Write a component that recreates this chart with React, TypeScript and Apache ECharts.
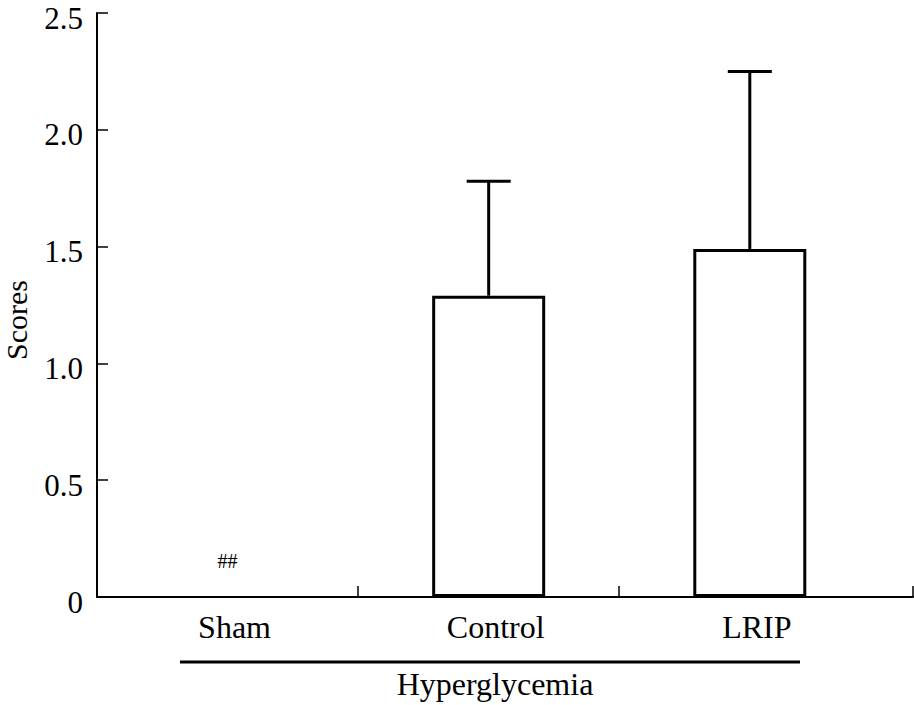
import React, { useEffect, useRef } from "react";
import * as echarts from "echarts";

const categories = ["Sham", "Control", "LRIP"];
const means = [0, 1.29, 1.49];
const sds = [0, 0.49, 0.76];
const marks = ["##", "", ""];
const yMin = 0;
const yMax = 2.5;
const yStep = 0.5;
const groupLabel = "Hyperglycemia";
const yName = "Scores";

const FONT = '"Times New Roman", "Liberation Serif", serif';

export default function App() {
  const ref = useRef<HTMLDivElement>(null);
  useEffect(() => {
    if (!ref.current) return;
    const chart = echarts.init(ref.current, undefined, { renderer: "svg" });
    const pos = categories.map((_, i) => i + 0.5);
    const xMax = categories.length + 0.125;
    chart.setOption({
      animation: false,
      backgroundColor: "#fff",
      grid: { left: 97, right: 1, top: 13, bottom: 108, outerBoundsMode: "none" },
      xAxis: {
        type: "value",
        min: 0,
        max: xMax,
        splitLine: { show: false },
        axisLine: { show: true, lineStyle: { color: "#000", width: 2 } },
        axisTick: {
          show: true,
          inside: true,
          length: 11,
          customValues: [1, 2, xMax],
          lineStyle: { color: "#000", width: 1.5 },
        },
        axisLabel: {
          show: true,
          customValues: pos,
          formatter: (v: number) => categories[Math.round(v - 0.5)] ?? "",
          color: "#000",
          fontFamily: FONT,
          fontSize: 32,
          margin: 14,
          padding: [0, 0, 0, 14],
        },
      },
      yAxis: {
        type: "value",
        min: yMin,
        max: yMax,
        interval: yStep,
        name: yName,
        nameLocation: "middle",
        nameGap: 67,
        nameTextStyle: {
          color: "#000",
          fontFamily: FONT,
          fontSize: 30,
          lineHeight: 28,
          padding: [0, 30, 0, 0],
        },
        splitLine: { show: false },
        axisLine: { show: true, lineStyle: { color: "#000", width: 2 } },
        axisTick: { show: true, inside: true, length: 11, lineStyle: { color: "#000", width: 1.5 } },
        axisLabel: {
          color: "#000",
          fontFamily: FONT,
          fontSize: 31,
          lineHeight: 10,
          verticalAlign: "top",
          margin: 14,
          formatter: (v: number) => (v === 0 ? "0" : v.toFixed(1)),
        },
      },
      series: [
        {
          type: "bar",
          barWidth: 113,
          data: means.map((m, i) => ({
            value: [pos[i], m],
            itemStyle: {
              color: "#fff",
              borderColor: "#000",
              borderWidth: m === 0 ? 0 : 3,
            },
            label: {
              show: marks[i] !== "",
              formatter: marks[i],
              position: "top",
              distance: 26,
              color: "#000",
              fontFamily: FONT,
              fontSize: 20,
            },
          })),
        },
        {
          type: "custom",
          z: 3,
          data: means.map((m, i) => [pos[i], m, m + sds[i]]),
          renderItem: (params: any, api: any) => {
            const x = api.value(0);
            const lo = api.value(1);
            const hi = api.value(2);
            if (hi <= lo) return null;
            const p0 = api.coord([x, lo]);
            const p1 = api.coord([x, hi]);
            const half = 22;
            const style = { stroke: "#000", lineWidth: 3 };
            return {
              type: "group",
              children: [
                { type: "line", shape: { x1: p0[0], y1: p0[1], x2: p1[0], y2: p1[1] }, style },
                { type: "line", shape: { x1: p1[0] - half, y1: p1[1], x2: p1[0] + half, y2: p1[1] }, style },
              ],
            };
          },
        },
      ],
      graphic: [
        {
          type: "line",
          shape: { x1: 180, y1: 662, x2: 800, y2: 662 },
          style: { stroke: "#000", lineWidth: 3 },
        },
        {
          type: "text",
          x: 495,
          y: 684,
          style: {
            text: groupLabel,
            fill: "#000",
            font: `32px ${FONT}`,
            textAlign: "center",
            textVerticalAlign: "middle",
          },
        },
      ],
    });
    return () => chart.dispose();
  }, []);
  return (
    <div
      ref={ref}
      style={{ position: "fixed", left: 0, top: 0, width: 914, height: 705 }}
    />
  );
}
